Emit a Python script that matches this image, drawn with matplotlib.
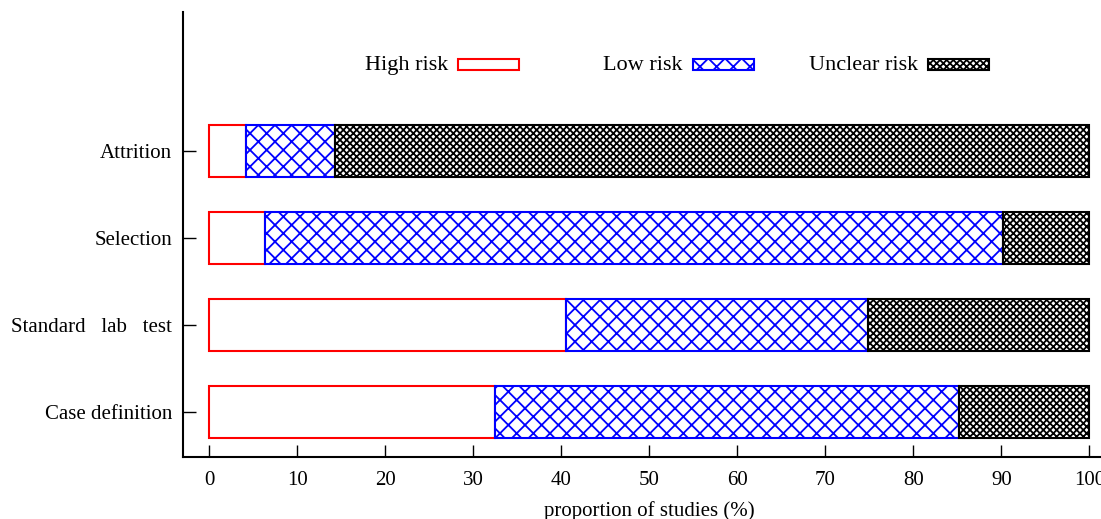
import matplotlib
matplotlib.use('Agg')
import matplotlib.pyplot as plt
from matplotlib.patches import Rectangle
import numpy as np

plt.rc('font', family='Liberation Serif', size=15)
plt.rcParams['hatch.linewidth'] = 1.3

categories = ['Case definition', 'Standard   lab   test', 'Selection', 'Attrition']
high_risk = [32.5, 40.5, 6.3, 4.2]
low_risk = [52.7, 34.4, 83.9, 10.1]
unclear_risk = [14.8, 25.1, 9.8, 85.7]
xticks = np.arange(0, 101, 10)

series_names = ['High risk', 'Low risk', 'Unclear risk']
colors = ['#ff0000', '#0000ff', 'black']
hatches = [None, 'xx', 'xxxxx']

fig = plt.figure(figsize=(11.01, 5.19), dpi=100)
ax = fig.add_axes([0.1662, 0.1195, 0.8472, 0.8574])

y = np.arange(len(categories))
vals = [np.array(high_risk), np.array(low_risk), np.array(unclear_risk)]
left = np.zeros(len(categories))
for v, c, ht, name in zip(vals, colors, hatches, series_names):
    ax.barh(y, v, left=left, height=0.6, color='white', edgecolor=c, lw=1.5,
            hatch=ht, label=name)
    left = left + v

ax.set_xlim(-3, 103)
ax.set_ylim(-0.517, 4.598)
ax.set_xticks(xticks)
ax.set_yticks(y)
ax.set_yticklabels(categories)
ax.tick_params(axis='both', direction='in', length=9, width=1)
ax.tick_params(axis='y', pad=8)
ax.tick_params(axis='x', pad=10)
ax.spines['top'].set_visible(False)
ax.spines['right'].set_visible(False)
ax.spines['left'].set_linewidth(1.5)
ax.spines['bottom'].set_linewidth(1.5)
ax.set_xlabel('proportion of studies (%)', labelpad=8)

# gnuplot style key: fixed-width columns, text right-justified, sample box after it
x0 = 0.2841
stride = 0.2519
ykey = 0.8831
for i, (name, c, ht) in enumerate(zip(series_names, colors, hatches)):
    xr = x0 + i * stride
    ax.text(xr, ykey - 0.004, name, transform=ax.transAxes, ha='right', va='center',
            fontsize=16)
    ax.add_patch(Rectangle((xr + 0.0107, ykey - 0.0124), 0.0654, 0.0247,
                           transform=ax.transAxes, facecolor='white',
                           edgecolor=c, lw=1.5, hatch=ht, clip_on=False))

fig.savefig('out.png', dpi=100)
